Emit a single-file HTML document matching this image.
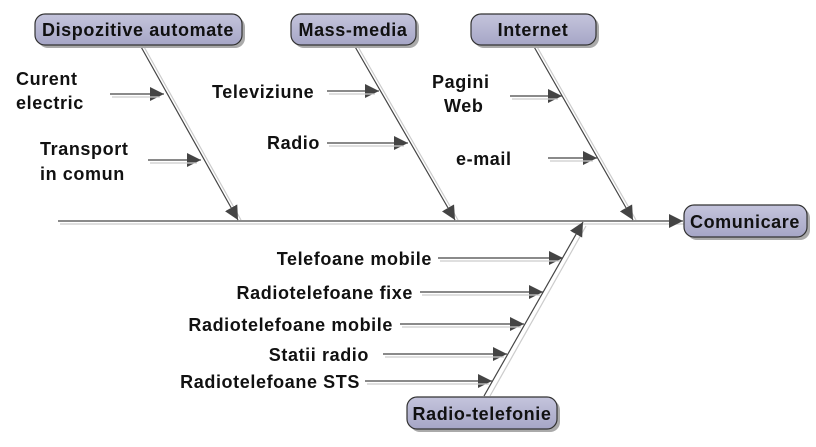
<!DOCTYPE html>
<html><head><meta charset="utf-8"><style>
html,body{margin:0;padding:0;background:#fff;}
svg{display:block;}
text{font-family:"Liberation Sans",sans-serif;font-weight:bold;font-size:18px;letter-spacing:0.6px;fill:#111;}
</style></head><body>
<svg width="816" height="447" viewBox="0 0 816 447" xmlns="http://www.w3.org/2000/svg">
<defs>
<marker id="b" viewBox="0 0 10 10" refX="10" refY="5" markerWidth="14" markerHeight="14" markerUnits="userSpaceOnUse" orient="auto"><path d="M0,0 L10,5 L0,10z" fill="#444"/></marker>
<linearGradient id="g" x1="0" y1="0" x2="0" y2="1"><stop offset="0" stop-color="#c4c4dc"/><stop offset="1" stop-color="#a6a6c6"/></linearGradient>
</defs>
<g stroke-width="1.2" fill="none">
<line x1="60" y1="224" x2="686" y2="224" stroke="#ccc"/>
<line x1="58" y1="221" x2="683" y2="221" stroke="#444" marker-end="url(#b)"/>
<line x1="143" y1="45" x2="241" y2="220" stroke="#ccc"/>
<line x1="140" y1="45" x2="238" y2="220" stroke="#444" marker-end="url(#b)"/>
<line x1="357" y1="45" x2="458" y2="220" stroke="#ccc"/>
<line x1="354" y1="45" x2="455" y2="220" stroke="#444" marker-end="url(#b)"/>
<line x1="536" y1="45" x2="636" y2="220" stroke="#ccc"/>
<line x1="533" y1="45" x2="633" y2="220" stroke="#444" marker-end="url(#b)"/>
<line x1="490" y1="396" x2="586" y2="226" stroke="#ccc"/>
<line x1="484" y1="396" x2="583" y2="222" stroke="#444" marker-end="url(#b)"/>
<g stroke="#444" marker-end="url(#b)">
<line x1="110" y1="94" x2="164" y2="94"/>
<line x1="148" y1="160" x2="201" y2="160"/>
<line x1="327" y1="91" x2="379" y2="91"/>
<line x1="327" y1="143" x2="408" y2="143"/>
<line x1="510" y1="96" x2="562" y2="96"/>
<line x1="548" y1="158" x2="597" y2="158"/>
<line x1="438" y1="258" x2="563" y2="258"/>
<line x1="420" y1="292" x2="543" y2="292"/>
<line x1="400" y1="324" x2="524" y2="324"/>
<line x1="383" y1="354" x2="507" y2="354"/>
<line x1="365" y1="381" x2="492" y2="381"/>
</g>
<g stroke="#ccc">
<line x1="112" y1="97" x2="160" y2="97"/>
<line x1="150" y1="163" x2="197" y2="163"/>
<line x1="329" y1="94" x2="375" y2="94"/>
<line x1="329" y1="146" x2="404" y2="146"/>
<line x1="512" y1="99" x2="558" y2="99"/>
<line x1="550" y1="161" x2="593" y2="161"/>
<line x1="440" y1="261" x2="560" y2="261"/>
<line x1="422" y1="295" x2="540" y2="295"/>
<line x1="402" y1="327" x2="521" y2="327"/>
<line x1="385" y1="357" x2="504" y2="357"/>
<line x1="367" y1="384" x2="489" y2="384"/>
</g>
</g>
<g stroke="#333" stroke-width="1.2" fill="url(#g)">
<rect x="38" y="17" width="207" height="31" rx="10" fill="#aaa" stroke="none"/>
<rect x="35" y="14" width="207" height="31" rx="10"/>
<rect x="294" y="17" width="125" height="31" rx="10" fill="#aaa" stroke="none"/>
<rect x="291" y="14" width="125" height="31" rx="10"/>
<rect x="474" y="17" width="125" height="31" rx="10" fill="#aaa" stroke="none"/>
<rect x="471" y="14" width="125" height="31" rx="10"/>
<rect x="687" y="208" width="123" height="32" rx="10" fill="#aaa" stroke="none"/>
<rect x="684" y="205" width="123" height="32" rx="10"/>
<rect x="410" y="400" width="150" height="32" rx="10" fill="#aaa" stroke="none"/>
<rect x="407" y="397" width="150" height="32" rx="10"/>
</g>
<g text-anchor="middle">
<text x="138" y="36">Dispozitive automate</text>
<text x="353" y="36">Mass-media</text>
<text x="533" y="36">Internet</text>
<text x="745" y="228">Comunicare</text>
<text x="482" y="420">Radio-telefonie</text>
</g>
<text x="16" y="85">Curent</text>
<text x="16" y="109">electric</text>
<text x="40" y="155">Transport</text>
<text x="40" y="180">in comun</text>
<text x="212" y="98">Televiziune</text>
<text x="267" y="149">Radio</text>
<text x="432" y="88">Pagini</text>
<text x="444" y="112">Web</text>
<text x="456" y="165">e-mail</text>
<text text-anchor="end" x="432" y="265">Telefoane mobile</text>
<text text-anchor="end" x="413" y="299">Radiotelefoane fixe</text>
<text text-anchor="end" x="393" y="331">Radiotelefoane mobile</text>
<text text-anchor="end" x="369" y="361">Statii radio</text>
<text text-anchor="end" x="360" y="388">Radiotelefoane STS</text>
</svg>
</body></html>
